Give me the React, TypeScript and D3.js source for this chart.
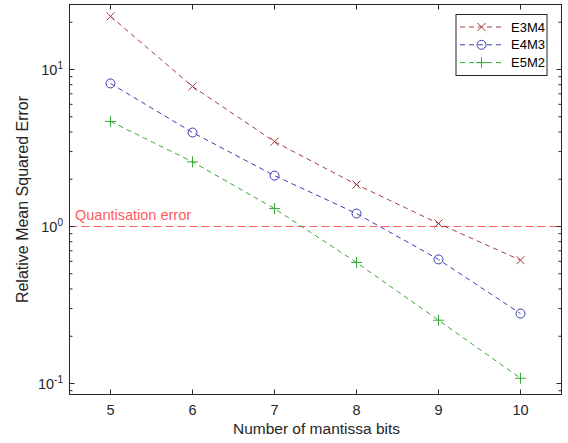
import React from "react";
import * as d3 from "d3";

const bits = [5, 6, 7, 8, 9, 10];
const e3m4 = [21.8, 7.8, 3.47, 1.85, 1.045, 0.61];
const e4m3 = [8.15, 3.97, 2.11, 1.21, 0.617, 0.279];
const e5m2 = [4.67, 2.58, 1.3, 0.59, 0.253, 0.108];
const seriesNames = ["E3M4", "E4M3", "E5M2"];
const xTicks = [5, 6, 7, 8, 9, 10];
const yMajor = [0.1, 1, 10];
const quantLevel = 1;

const W = 568, H = 443;
const L = 69.5, R = 561.5, T = 4.5, B = 394.5;
const FONT = "'Liberation Sans', Arial, sans-serif";
const AX = "#262626";

export default function App() {
  const x = d3.scaleLinear().domain([4.5, 10.5]).range([L, R]);
  const y = d3.scaleLog().domain([10 ** (-1 - 11 / 157), 10 ** (1 + 65 / 157)]).range([B, T]);
  const minor: number[] = [];
  for (const d of [0.01, 0.1, 1, 10]) for (let k = 2; k <= 9; k++) {
    const v = d * k;
    if (v >= y.domain()[0] && v <= y.domain()[1]) minor.push(v);
  }
  const line = d3.line<number>().x((_, i) => x(bits[i])).y((d) => y(d));
  const series = [
    { name: seriesNames[0], data: e3m4, color: "#a83c3c", marker: "x" },
    { name: seriesNames[1], data: e4m3, color: "#3c3cb4", marker: "o" },
    { name: seriesNames[2], data: e5m2, color: "#36a836", marker: "+" },
  ];
  const marker = (m: string, cx: number, cy: number, c: string, key: any) => {
    if (m === "x") {
      const s = 4;
      return <path key={key} d={`M${cx - s},${cy - s}L${cx + s},${cy + s}M${cx - s},${cy + s}L${cx + s},${cy - s}`} stroke={c} strokeWidth={1} fill="none" />;
    }
    if (m === "o") return <circle key={key} cx={cx} cy={cy} r={4.5} stroke={c} strokeWidth={1} fill="none" />;
    const s = 5.5;
    return <path key={key} d={`M${cx - s},${cy}L${cx + s},${cy}M${cx},${cy - s}L${cx},${cy + s}`} stroke={c} strokeWidth={1} fill="none" />;
  };
  const legX = 456, legY = 14.5, legW = 91, legH = 61;
  return (
    <svg width={W} height={H} style={{ position: "absolute", left: 0, top: 0, background: "#fff" }} fontFamily={FONT}>
      <rect x={0} y={0} width={W} height={H} fill="#fff" />
      {/* quantisation line */}
      <line x1={L} x2={R} y1={y(quantLevel)} y2={y(quantLevel)} stroke="#ff5c5c" strokeWidth={1} strokeDasharray="8,4" />
      <text x={75} y={y(quantLevel) - 7} fill="#ff5c5c" fontSize={14.5}>Quantisation error</text>
      {series.map((s) => (
        <g key={s.name}>
          <path d={line(s.data) || ""} fill="none" stroke={s.color} strokeWidth={1} strokeDasharray="5,4" />
          {s.data.map((d, i) => marker(s.marker, x(bits[i]), y(d), s.color, i))}
        </g>
      ))}
      {/* axes box */}
      <rect x={L} y={T} width={R - L} height={B - T} fill="none" stroke={AX} strokeWidth={1} />
      {xTicks.map((t) => (
        <g key={t}>
          <line x1={x(t)} x2={x(t)} y1={B} y2={B - 5} stroke={AX} />
          <line x1={x(t)} x2={x(t)} y1={T} y2={T + 5} stroke={AX} />
          <text x={x(t)} y={415} textAnchor="middle" fontSize={14.5} fill={AX}>{t}</text>
        </g>
      ))}
      {yMajor.map((t) => {
        const e = Math.round(Math.log10(t));
        return (
          <g key={t}>
            <line x1={L} x2={L + 5} y1={y(t)} y2={y(t)} stroke={AX} />
            <line x1={R} x2={R - 5} y1={y(t)} y2={y(t)} stroke={AX} />
            <text x={63} y={y(t) + 5.5} textAnchor="end" fontSize={14.5} fill={AX}>
              10<tspan dy={-6.5} fontSize={10}>{e}</tspan>
            </text>
          </g>
        );
      })}
      {minor.map((t) => (
        <g key={"m" + t}>
          <line x1={L} x2={L + 3} y1={y(t)} y2={y(t)} stroke={AX} />
          <line x1={R} x2={R - 3} y1={y(t)} y2={y(t)} stroke={AX} />
        </g>
      ))}
      <text x={(L + R) / 2 + 1} y={434} textAnchor="middle" fontSize={15.5} fill={AX}>Number of mantissa bits</text>
      <text transform={`translate(28,${(T + B) / 2}) rotate(-90)`} textAnchor="middle" fontSize={16} fill={AX}>Relative Mean Squared Error</text>
      {/* legend */}
      <rect x={legX} y={legY} width={legW} height={legH} fill="#fff" stroke={AX} strokeWidth={1} />
      {series.map((s, i) => {
        const cy = 27 + i * 17.8;
        return (
          <g key={"l" + s.name}>
            <line x1={460} x2={503} y1={cy} y2={cy} stroke={s.color} strokeDasharray="5,4" />
            {marker(s.marker, 481.5, cy, s.color, "m")}
            <text x={511} y={cy + 4.5} fontSize={13} fill="#000">{s.name}</text>
          </g>
        );
      })}
    </svg>
  );
}
